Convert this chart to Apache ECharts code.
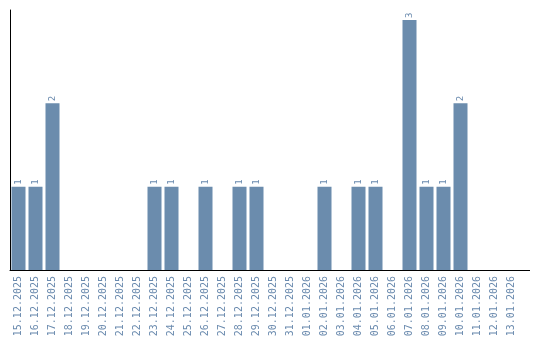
<!DOCTYPE html>
<html>
<head>
<meta charset="utf-8">
<script src="https://cdn.jsdelivr.net/npm/echarts@6/dist/echarts.min.js"></script>
<style>html,body{margin:0;padding:0;background:#fff}#c{width:540px;height:340px}</style>
</head>
<body>
<div id="c"></div>
<script>
var categories = ["15.12.2025","16.12.2025","17.12.2025","18.12.2025","19.12.2025","20.12.2025","21.12.2025","22.12.2025","23.12.2025","24.12.2025","25.12.2025","26.12.2025","27.12.2025","28.12.2025","29.12.2025","30.12.2025","31.12.2025","01.01.2026","02.01.2026","03.01.2026","04.01.2026","05.01.2026","06.01.2026","07.01.2026","08.01.2026","09.01.2026","10.01.2026","11.01.2026","12.01.2026","13.01.2026"];
var values = [1,1,2,0,0,0,0,0,1,1,0,1,0,1,1,0,0,0,1,0,1,1,0,3,1,1,2,0,0,0];

var chart = echarts.init(document.getElementById('c'), null, {renderer: 'canvas'});
chart.setOption({
  animation: false,
  grid: {left: 10, top: 10, width: 510, height: 260, containLabel: false},
  xAxis: {
    type: 'category',
    data: categories,
    axisLine: {show: true, lineStyle: {color: '#000', width: 1}},
    axisTick: {show: false},
    axisLabel: {rotate: 90, interval: 0, margin: 6, color: '#6a8aae', fontFamily: 'DejaVu Sans Mono', fontSize: 10}
  },
  yAxis: {
    type: 'value', min: 0, max: 3.12,
    axisLine: {show: true, lineStyle: {color: '#000', width: 1}},
    axisTick: {show: false},
    axisLabel: {show: false},
    splitLine: {show: false}
  },
  graphic: [{type: 'line', shape: {x1: 520, y1: 270.5, x2: 530, y2: 270.5}, style: {stroke: '#000', lineWidth: 1}}],
  series: [{
    type: 'bar',
    data: values.map(function(v){ return v === 0 ? {value: 0, label: {show: false}} : v; }),
    barWidth: 14,
    itemStyle: {color: '#6b8cad'},
    label: {show: true, position: 'top', rotate: 90, align: 'left', verticalAlign: 'middle', distance: 2, color: '#6a8aae', fontFamily: 'DejaVu Sans Mono', fontSize: 9}
  }]
});
</script>
</body>
</html>
